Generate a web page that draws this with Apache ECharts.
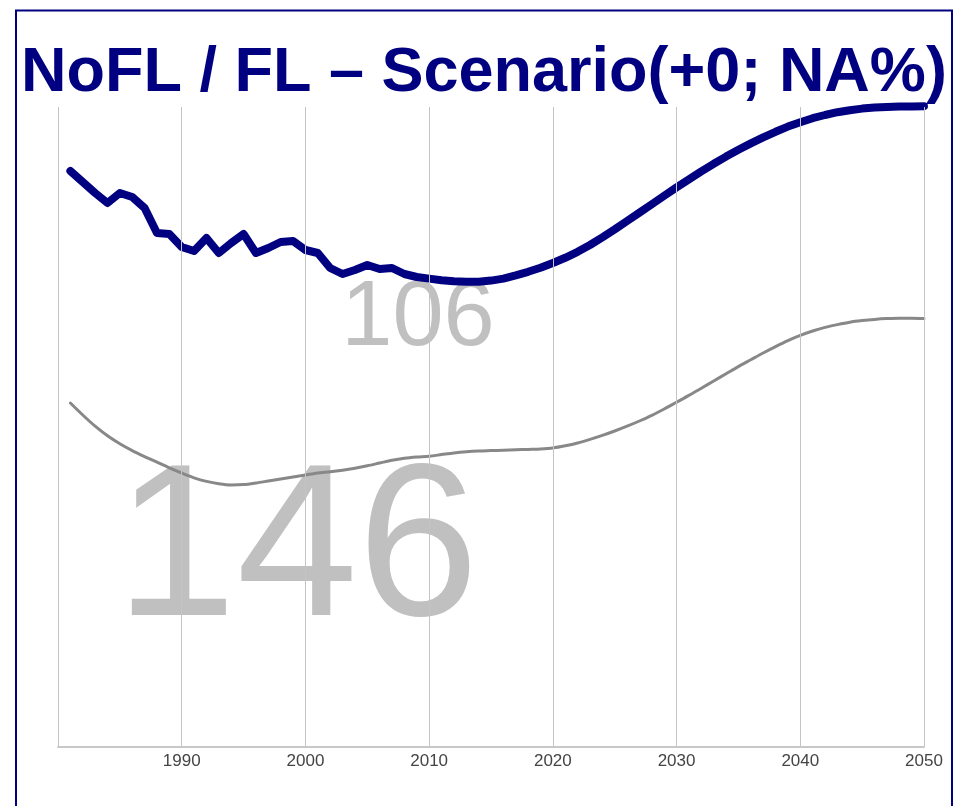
<!DOCTYPE html>
<html>
<head>
<meta charset="utf-8">
<script src="https://cdn.jsdelivr.net/npm/echarts@6/dist/echarts.min.js"></script>
<style>
html,body{margin:0;padding:0;background:#fff;}
#chart{width:961px;height:806px;}
</style>
</head>
<body>
<div id="chart"></div>
<script>
const titleText = 'NoFL / FL – Scenario(+0; NA%)';
const years = [];
for (let y = 1981; y <= 2050; y++) years.push(y);
const xTicks = [1990, 2000, 2010, 2020, 2030, 2040, 2050];
const noflValues = [
  144.0, 141.25, 138.5, 136.0, 138.5, 137.5, 134.75, 128.5, 128.25, 125.0,
  124.0, 127.25, 123.5, 126.0, 128.25, 123.5, 124.75, 126.25, 126.5, 124.25,
  123.5, 119.75, 118.25, 119.25, 120.5, 119.5, 119.75, 118.25, 117.5, 117.1,
  116.7, 116.45, 116.3, 116.3, 116.6, 117.1, 117.9, 118.8, 119.8, 121.0,
  122.3, 123.8, 125.5, 127.4, 129.4, 131.5, 133.6, 135.7, 137.8, 139.9,
  141.9, 143.9, 145.8, 147.6, 149.3, 150.9, 152.4, 153.8, 155.1, 156.2,
  157.2, 158.0, 158.7, 159.2, 159.6, 159.85, 160.0, 160.1, 160.15, 160.2
];
const flValues = [
  86.0, 83.0, 80.2, 77.8, 75.8, 74.1, 72.6, 71.2, 69.8, 68.5,
  67.3, 66.4, 65.8, 65.5, 65.6, 66.0, 66.5, 67.0, 67.5, 68.0,
  68.5, 68.8, 69.2, 69.7, 70.3, 71.0, 71.7, 72.2, 72.5, 72.7,
  73.1, 73.5, 73.8, 74.0, 74.1, 74.2, 74.3, 74.4, 74.5, 74.75,
  75.3, 76.0, 76.9, 77.9, 79.0, 80.2, 81.5, 82.9, 84.5, 86.2,
  87.9, 89.7, 91.5, 93.3, 95.1, 96.8, 98.5, 100.1, 101.6, 102.9,
  104.0, 104.9, 105.6, 106.2, 106.6, 106.9, 107.1, 107.2, 107.2, 107.1
];
const bigLabels = ['146', '106'];

const chart = echarts.init(document.getElementById('chart'), null, {renderer: 'canvas'});
const font = '"Liberation Sans", Arial, sans-serif';
chart.setOption({
  animation: false,
  backgroundColor: '#ffffff',
  title: {
    text: titleText,
    left: 21,
    top: 42,
    padding: 0,
    textStyle: {color: '#000080', fontSize: 63, fontWeight: 'bold', fontFamily: font}
  },
  grid: {left: 58, right: 37, top: 107, bottom: 59, containLabel: false},
  xAxis: {
    type: 'value', min: 1980, max: 2050, interval: 10, z: 5,
    axisLine: {show: true, lineStyle: {color: '#c8c8c8', width: 2}},
    axisTick: {show: false},
    splitLine: {show: true, lineStyle: {color: '#c4c4c4', width: 1}},
    axisLabel: {
      color: '#444', fontSize: 17, fontFamily: font, margin: 6,
      formatter: v => xTicks.indexOf(v) >= 0 ? String(v) : ''
    }
  },
  yAxis: {
    type: 'value', min: 0, max: 160, show: false,
    splitLine: {show: false}
  },
  graphic: [
    {type: 'text', z: 0, x: 297, y: 555,
     style: {text: bigLabels[0], fill: '#c0c0c0', fontSize: 218, fontFamily: font,
             align: 'center', verticalAlign: 'middle'}},
    {type: 'text', z: 0, x: 418, y: 320,
     style: {text: bigLabels[1], fill: '#c0c0c0', fontSize: 92, fontFamily: font,
             align: 'center', verticalAlign: 'middle'}},
    {type: 'rect', z: 10, shape: {x: 16, y: 10.5, width: 936, height: 830},
     style: {fill: 'none', stroke: '#000080', lineWidth: 2}}
  ],
  series: [
    {
      type: 'line', name: 'FL', z: 2, showSymbol: false, clip: false, smooth: 0.3,
      data: years.map((y, i) => [y, flValues[i]]),
      lineStyle: {color: '#888888', width: 3, cap: 'round', join: 'round'}
    },
    {
      type: 'line', name: 'NoFL', z: 2, showSymbol: false, clip: false,
      data: years.map((y, i) => [y, noflValues[i]]),
      lineStyle: {color: '#000080', width: 8, cap: 'round', join: 'round'}
    }
  ]
});
</script>
</body>
</html>
